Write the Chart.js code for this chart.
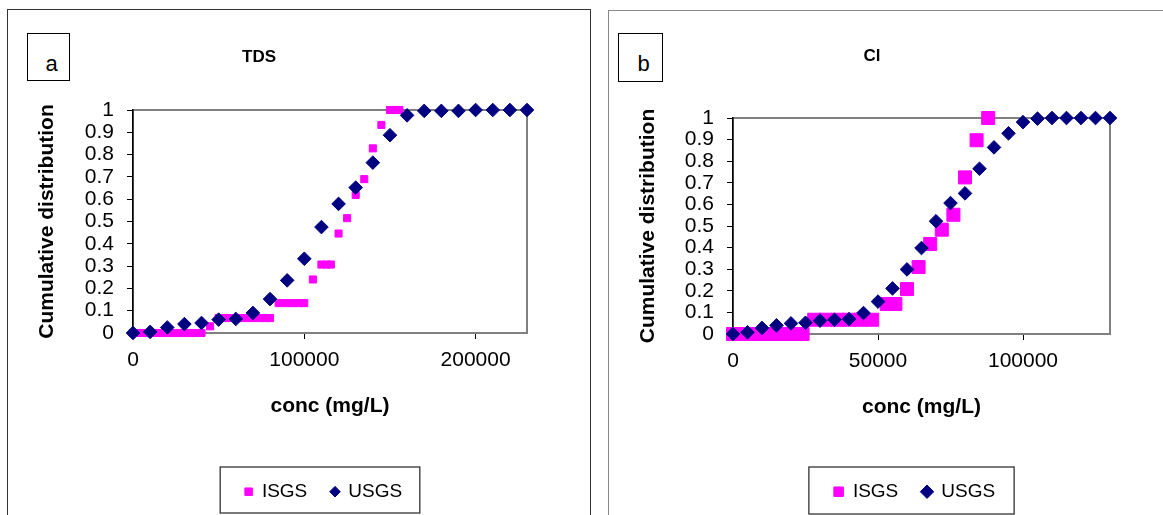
<!DOCTYPE html>
<html>
<head>
<meta charset="utf-8">
<title>Cumulative distribution of TDS and Cl</title>
<script src="https://cdn.jsdelivr.net/npm/chart.js@4.4.1/dist/chart.umd.min.js"></script>
<style>
  html, body { margin: 0; padding: 0; background: #fff; overflow: hidden; }
  body { width: 1163px; height: 515px; position: relative; font-family: "Liberation Sans", Arial, sans-serif; }
  .frame { position: absolute; box-sizing: border-box; height: 530px; border-bottom: none; }
  #frameA { left: 7px; top: 9px; width: 584px; border: 1px solid #333; border-bottom: none; }
  #frameB { left: 608px; top: 10px; width: 600px; border: 1px solid #888; border-bottom: none; border-right: none; }
  .tag { position: absolute; box-sizing: border-box; border: 1.5px solid #000; font-size: 22px; line-height: 22px;
         text-align: center; padding: 19px 0 0 6px; color: #000; }
  #tagA { left: 27px; top: 33px; width: 43px; height: 48px; }
  #tagB { left: 618px; top: 33px; width: 45px; height: 49px; }
  canvas { position: absolute; }
  #tds { left: 8px; top: 10px; }
  #cl { left: 609px; top: 11px; }
</style>
</head>
<body>
<div class="frame" id="frameA"></div>
<div class="frame" id="frameB"></div>
<div class="tag" id="tagA">a</div>
<div class="tag" id="tagB">b</div>
<canvas id="tds" width="582" height="505"></canvas>
<canvas id="cl" width="554" height="504"></canvas>
<script>
// series names, as in the legend
const seriesNames = ['ISGS', 'USGS'];

// y axis ticks (shared by both panels)
const yTicks = [0, 0.1, 0.2, 0.3, 0.4, 0.5, 0.6, 0.7, 0.8, 0.9, 1];

// panel a - TDS (mg/L)
const tdsXTicks = [0, 100000, 200000];
const tdsIsgsX = [0, 4000, 8000, 12000, 16000, 20000, 24000, 28000, 32000, 36000, 40000,
	45000,
	50000, 54000, 58000, 62000, 66000, 70000, 74000, 77000, 80000,
	85000, 89000, 93000, 97000, 100000,
	105000,
	110000, 113000, 115500,
	120000, 125000, 130000, 135000, 140000, 145000,
	150000, 153000, 155500];
const tdsIsgsY = [0, 0, 0, 0, 0, 0, 0, 0, 0, 0, 0,
	0.03,
	0.067, 0.067, 0.067, 0.067, 0.067, 0.067, 0.067, 0.067, 0.067,
	0.134, 0.134, 0.134, 0.134, 0.134,
	0.24,
	0.307, 0.307, 0.307,
	0.446, 0.515, 0.619, 0.69, 0.828, 0.933,
	1, 1, 1];
const tdsUsgsX = [0, 10000, 20000, 30000, 40000, 50000, 60000, 70000, 80000, 90000, 100000, 110000,
	120000, 130000, 140000, 150000, 160000, 170000, 180000, 190000, 200000, 210000, 220000, 230000];
const tdsUsgsY = [0, 0.005, 0.025, 0.04, 0.045, 0.06, 0.063, 0.09, 0.152, 0.236, 0.333, 0.475,
	0.579, 0.652, 0.764, 0.887, 0.976, 0.996, 0.996, 0.996, 1, 1, 1, 1];

// panel b - Cl (mg/L)
const clXTicks = [0, 50000, 100000];
const clIsgsX = [0, 4000, 8000, 12000, 16000, 20000, 24000,
	28000, 32000, 36000, 40000, 44000, 48000,
	53000, 56000,
	60000, 64000, 68000, 72000, 76000, 80000, 84000, 88000];
const clIsgsY = [0, 0, 0, 0, 0, 0, 0,
	0.066, 0.066, 0.066, 0.066, 0.066, 0.066,
	0.139, 0.139,
	0.208, 0.31, 0.417, 0.483, 0.552, 0.725, 0.897, 1];
const clUsgsX = [0, 5000, 10000, 15000, 20000, 25000, 30000, 35000, 40000, 45000, 50000, 55000, 60000,
	65000, 70000, 75000, 80000, 85000, 90000, 95000, 100000, 105000, 110000, 115000, 120000, 125000, 130000];
const clUsgsY = [0, 0.008, 0.028, 0.04, 0.049, 0.052, 0.062, 0.066, 0.069, 0.097, 0.15, 0.211, 0.299,
	0.398, 0.522, 0.606, 0.651, 0.765, 0.864, 0.929, 0.981, 0.997, 1, 1, 1, 1, 1];

const MAGENTA = '#ff00ff';
const NAVY = '#000080';

Chart.defaults.font.family = '"Liberation Sans", Arial, sans-serif';
Chart.defaults.color = '#000';

// zip two arrays into scatter points
function pairs(xs, ys) {
	return xs.map((x, i) => ({ x: x, y: ys[i] }));
}

// slide the title / legend sideways after layout (Excel does not centre them on the frame)
const nudge = {
	id: 'nudge',
	afterLayout(chart, args, opts) {
		[['titleBlock', opts.title], ['legend', opts.legend]].forEach(([key, dx]) => {
			const box = chart[key];
			if (box && dx) {
				box.left += dx;
				box.right += dx;
			}
		});
	}
};

// grey plot-area frame, drawn under the axes
const plotFrame = {
	id: 'plotFrame',
	beforeDraw(chart) {
		const { ctx, chartArea: a } = chart;
		ctx.save();
		ctx.strokeStyle = '#808080';
		ctx.lineWidth = 2;
		ctx.strokeRect(a.left, a.top, a.right - a.left, a.bottom - a.top);
		ctx.restore();
	}
};

// box around the legend items
const legendFrame = {
	id: 'legendFrame',
	afterDraw(chart, args, opts) {
		const boxes = chart.legend && chart.legend.legendHitBoxes;
		if (!boxes || !boxes.length) { return; }
		const left = Math.min(...boxes.map((b) => b.left)) - opts.left;
		const right = Math.max(...boxes.map((b) => b.left + b.width)) + opts.right;
		const cy = boxes[0].top + boxes[0].height / 2;
		const ctx = chart.ctx;
		ctx.save();
		ctx.strokeStyle = '#333';
		ctx.lineWidth = 1.3;
		ctx.strokeRect(left, cy - opts.up, right - left, opts.up + opts.down);
		ctx.restore();
	}
};

function makePanel(id, p) {
	const tickFont = { size: 21 };
	const axisFont = { size: 21, weight: 'bold' };
	return new Chart(document.getElementById(id), {
		type: 'scatter',
		data: {
			datasets: [
				{
					label: seriesNames[1],
					data: pairs(p.usgsX, p.usgsY),
					pointStyle: 'rectRot',
					pointRadius: 6.8,
					pointBorderWidth: 1,
					pointBackgroundColor: NAVY,
					pointBorderColor: NAVY,
					backgroundColor: NAVY,
					borderColor: NAVY,
					showLine: false,
					clip: false
				},
				{
					label: seriesNames[0],
					data: pairs(p.isgsX, p.isgsY),
					pointStyle: 'rect',
					pointRadius: p.squareRadius,
					pointBorderWidth: 1,
					pointBackgroundColor: MAGENTA,
					pointBorderColor: MAGENTA,
					backgroundColor: MAGENTA,
					borderColor: MAGENTA,
					showLine: false,
					clip: false
				}
			]
		},
		options: {
			responsive: false,
			animation: false,
			events: [],
			layout: { padding: { left: 0, top: 0, right: p.padRight, bottom: 3.8 } },
			scales: {
				x: {
					type: 'linear',
					min: 0,
					max: p.xMax,
					afterBuildTicks: (s) => { s.ticks = p.xTicks.map((v) => ({ value: v })); },
					afterFit: (s) => { s.height = p.xHeight; },
					ticks: { font: tickFont, color: '#000', padding: 8.4, maxRotation: 0, autoSkip: false,
						callback: (v) => String(v) },
					grid: { display: true, drawOnChartArea: false, drawTicks: true, tickLength: 6, color: '#000' },
					border: { display: true, color: '#808080', width: 2 },
					title: { display: true, text: 'conc (mg/L)', color: '#000', font: axisFont,
						padding: { top: 0, bottom: p.xTitlePad } }
				},
				y: {
					type: 'linear',
					min: 0,
					max: 1,
					afterBuildTicks: (s) => { s.ticks = yTicks.map((v) => ({ value: v })); },
					afterFit: (s) => { s.width = p.yWidth; },
					ticks: { font: tickFont, color: '#000', padding: 13, autoSkip: false,
						callback: (v) => String(v) },
					grid: { display: true, drawOnChartArea: false, drawTicks: true, tickLength: 6, color: '#000' },
					border: { display: true, color: '#000', width: 1.5 },
					title: { display: true, text: 'Cumulative distribution', color: '#000', font: axisFont,
						padding: { top: 26.9, bottom: 0 } }
				}
			},
			plugins: {
				title: {
					display: true,
					text: p.title,
					color: '#000',
					font: { size: 17, weight: 'bold' },
					padding: { top: p.titleTop, bottom: p.titleBottom }
				},
				legend: {
					position: 'bottom',
					reverse: true,
					labels: {
						usePointStyle: true,
						boxWidth: p.legendBox,
						boxHeight: p.legendBox,
						padding: 24,
						color: '#000',
						font: { size: 19 }
					}
				},
				tooltip: { enabled: false },
				nudge: { title: p.titleShift, legend: p.legendShift },
				legendFrame: p.legendFrame
			}
		},
		plugins: [nudge, plotFrame, legendFrame]
	});
}

makePanel('tds', {
	title: 'TDS',
	isgsX: tdsIsgsX, isgsY: tdsIsgsY, usgsX: tdsUsgsX, usgsY: tdsUsgsY,
	xMax: 230000, xTicks: tdsXTicks,
	squareRadius: 5,
	padRight: 63, yWidth: 125, xHeight: 125.2, xTitlePad: 39.6,
	titleTop: 37, titleBottom: 42.6, titleShift: -8.5,
	legendBox: 7.5, legendShift: 56,
	legendFrame: { left: 24.7, right: 17.7, up: 24.7, down: 21.3 }
});

makePanel('cl', {
	title: 'Cl',
	isgsX: clIsgsX, isgsY: clIsgsY, usgsX: clUsgsX, usgsY: clUsgsY,
	xMax: 130000, xTicks: clXTicks,
	squareRadius: 9.2,
	padRight: 53, yWidth: 124, xHeight: 124.2, xTitlePad: 38.6,
	titleTop: 35.5, titleBottom: 51.1, titleShift: 12.5,
	legendBox: 9.5, legendShift: 55,
	legendFrame: { left: 25, right: 19, up: 24.7, down: 22.3 }
});
</script>
</body>
</html>
